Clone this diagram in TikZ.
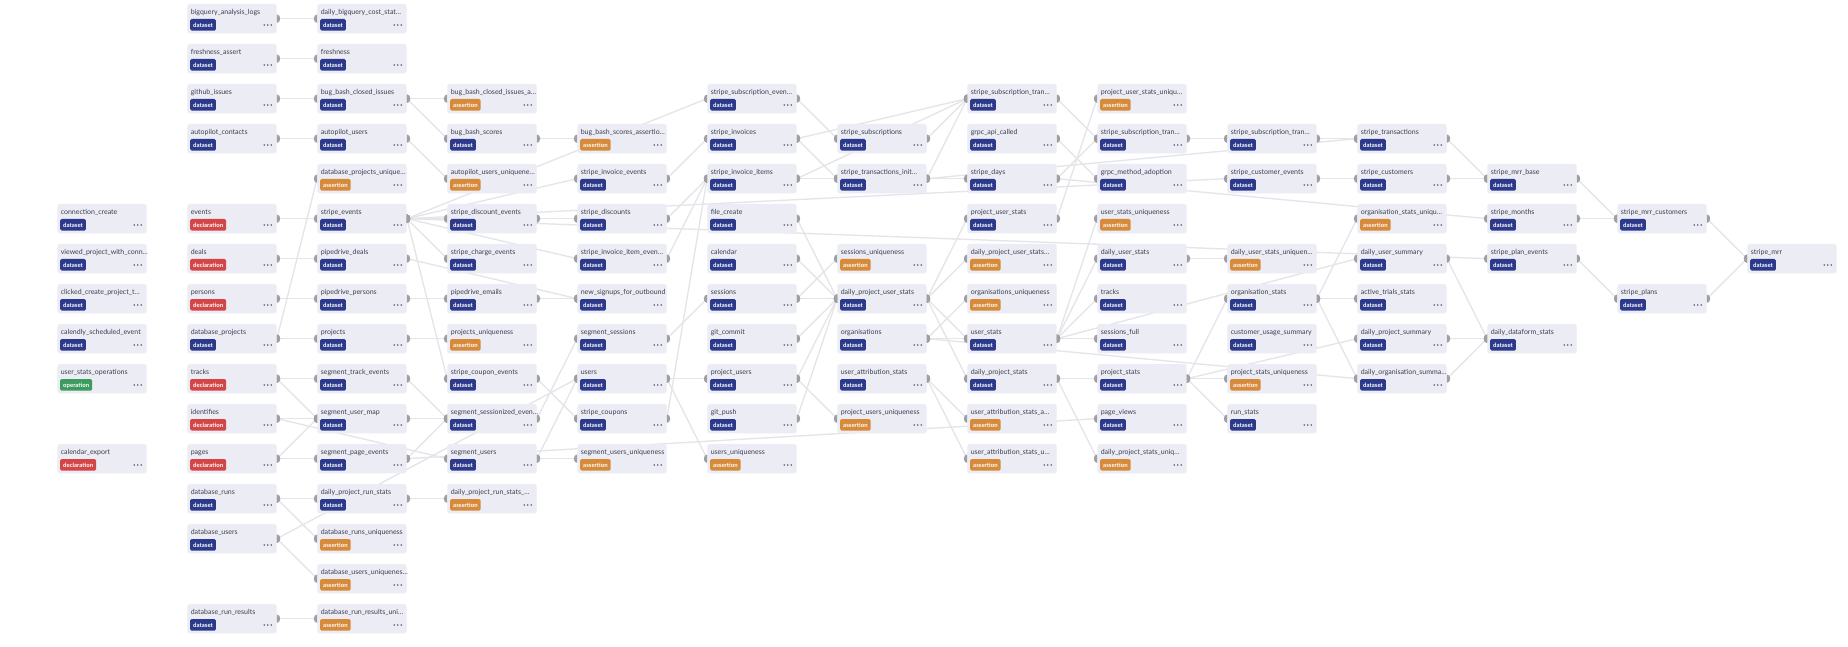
\documentclass[tikz,border=0pt]{standalone}
\usepackage{fontspec}
\setmainfont{Lato}
\usetikzlibrary{backgrounds}
\definecolor{boxc}{RGB}{235,236,244}
\definecolor{datasetc}{RGB}{45,58,140}
\definecolor{declarationc}{RGB}{212,70,70}
\definecolor{assertionc}{RGB}{214,138,58}
\definecolor{operationc}{RGB}{60,155,95}
\definecolor{edgec}{RGB}{228,228,233}
\definecolor{hdc}{RGB}{158,158,164}
\definecolor{txc}{RGB}{60,62,80}
\definecolor{dotc}{RGB}{90,92,108}
\tikzset{
  box/.style={rectangle,minimum width=89.4pt,minimum height=29.3pt,inner sep=0pt,fill=boxc,rounded corners=2.5pt},
  title/.style={anchor=base west,inner sep=0pt,font=\fontsize{7}{8}\selectfont,text=txc},
  badge/.style={anchor=west,minimum height=11.7pt,inner xsep=3pt,inner ysep=0pt,rounded corners=1.5pt,text=white,font=\fontsize{6}{7}\selectfont\bfseries,text height=4.4pt,text depth=0pt},
  edgeln/.style={draw=edgec,line width=1.3pt},
}
\newcommand\dnode[5]{%
  \pgfmathsetmacro\nx{57.3+130*#2}%
  \pgfmathsetmacro\ny{-(4+40*#3)}%
  \node[box] (#1) at (\nx+44.7,\ny-14.65) {};
  \node[title] (#1t) at (\nx+3.3,\ny-10.5) {#4};
  \node[badge,fill=#5c] (#1b) at (\nx+2.7,\ny-20.85) {#5};
  \fill[dotc] (\nx+77,\ny-21) circle (0.85pt) (\nx+80.5,\ny-21) circle (0.85pt) (\nx+84,\ny-21) circle (0.85pt);
}
\newcommand\edge[2]{%
  \begin{scope}[on background layer]
    \draw[edgeln] (#1.east) -- (#2.west);
  \end{scope}
  \fill[hdc] ([yshift=4.2pt]#1.east) arc[start angle=90,end angle=-90,x radius=3.3pt,y radius=4.2pt] -- cycle;
  \fill[hdc] ([yshift=4.2pt]#2.west) arc[start angle=90,end angle=270,x radius=3.3pt,y radius=4.2pt] -- cycle;
}
\begin{document}
\begin{tikzpicture}[x=1pt,y=1pt]
\useasboundingbox (0,0) rectangle (1848,-647);
\begin{scope}[on background layer]
\fill[white] (0,0) rectangle (1848,-647);
\end{scope}
% column 0
\dnode{cc}{0}{5}{connection\_create}{dataset}
\dnode{vp}{0}{6}{viewed\_project\_with\_conn…}{dataset}
\dnode{ccp}{0}{7}{clicked\_create\_project\_t…}{dataset}
\dnode{cse}{0}{8}{calendly\_scheduled\_event}{dataset}
\dnode{uso}{0}{9}{user\_stats\_operations}{operation}
\dnode{cex}{0}{11}{calendar\_export}{declaration}
% column 1
\dnode{bal}{1}{0}{bigquery\_analysis\_logs}{dataset}
\dnode{fa}{1}{1}{freshness\_assert}{dataset}
\dnode{gi}{1}{2}{github\_issues}{dataset}
\dnode{ac}{1}{3}{autopilot\_contacts}{dataset}
\dnode{ev}{1}{5}{events}{declaration}
\dnode{de}{1}{6}{deals}{declaration}
\dnode{pe}{1}{7}{persons}{declaration}
\dnode{dp}{1}{8}{database\_projects}{dataset}
\dnode{tr}{1}{9}{tracks}{declaration}
\dnode{id}{1}{10}{identifies}{declaration}
\dnode{pg}{1}{11}{pages}{declaration}
\dnode{dr}{1}{12}{database\_runs}{dataset}
\dnode{du}{1}{13}{database\_users}{dataset}
\dnode{drr}{1}{15}{database\_run\_results}{dataset}
% column 2
\dnode{dbc}{2}{0}{daily\_bigquery\_cost\_stat…}{dataset}
\dnode{fr}{2}{1}{freshness}{dataset}
\dnode{bbci}{2}{2}{bug\_bash\_closed\_issues}{dataset}
\dnode{au}{2}{3}{autopilot\_users}{dataset}
\dnode{dpu}{2}{4}{database\_projects\_unique…}{assertion}
\dnode{se}{2}{5}{stripe\_events}{dataset}
\dnode{pdd}{2}{6}{pipedrive\_deals}{dataset}
\dnode{pdp}{2}{7}{pipedrive\_persons}{dataset}
\dnode{pj}{2}{8}{projects}{dataset}
\dnode{ste}{2}{9}{segment\_track\_events}{dataset}
\dnode{sum}{2}{10}{segment\_user\_map}{dataset}
\dnode{spe}{2}{11}{segment\_page\_events}{dataset}
\dnode{dprs}{2}{12}{daily\_project\_run\_stats}{dataset}
\dnode{dru}{2}{13}{database\_runs\_uniqueness}{assertion}
\dnode{duu}{2}{14}{database\_users\_uniquenes…}{assertion}
\dnode{drru}{2}{15}{database\_run\_results\_uni…}{assertion}
% column 3
\dnode{bbcia}{3}{2}{bug\_bash\_closed\_issues\_a…}{assertion}
\dnode{bbs}{3}{3}{bug\_bash\_scores}{dataset}
\dnode{auu}{3}{4}{autopilot\_users\_uniquene…}{assertion}
\dnode{sde}{3}{5}{stripe\_discount\_events}{dataset}
\dnode{sce}{3}{6}{stripe\_charge\_events}{dataset}
\dnode{pem}{3}{7}{pipedrive\_emails}{dataset}
\dnode{pju}{3}{8}{projects\_uniqueness}{assertion}
\dnode{scpe}{3}{9}{stripe\_coupon\_events}{dataset}
\dnode{sse}{3}{10}{segment\_sessionized\_even…}{dataset}
\dnode{su}{3}{11}{segment\_users}{dataset}
\dnode{dprsa}{3}{12}{daily\_project\_run\_stats\_…}{assertion}
% column 4
\dnode{bbsa}{4}{3}{bug\_bash\_scores\_assertio…}{assertion}
\dnode{sie}{4}{4}{stripe\_invoice\_events}{dataset}
\dnode{sd}{4}{5}{stripe\_discounts}{dataset}
\dnode{siie}{4}{6}{stripe\_invoice\_item\_even…}{dataset}
\dnode{nso}{4}{7}{new\_signups\_for\_outbound}{dataset}
\dnode{ss}{4}{8}{segment\_sessions}{dataset}
\dnode{us}{4}{9}{users}{dataset}
\dnode{sc}{4}{10}{stripe\_coupons}{dataset}
\dnode{suu}{4}{11}{segment\_users\_uniqueness}{assertion}
% column 5
\dnode{ssue}{5}{2}{stripe\_subscription\_even…}{dataset}
\dnode{si}{5}{3}{stripe\_invoices}{dataset}
\dnode{sii}{5}{4}{stripe\_invoice\_items}{dataset}
\dnode{fc}{5}{5}{file\_create}{dataset}
\dnode{cal}{5}{6}{calendar}{dataset}
\dnode{ses}{5}{7}{sessions}{dataset}
\dnode{gc}{5}{8}{git\_commit}{dataset}
\dnode{pu}{5}{9}{project\_users}{dataset}
\dnode{gp}{5}{10}{git\_push}{dataset}
\dnode{uu}{5}{11}{users\_uniqueness}{assertion}
% column 6
\dnode{ssub}{6}{3}{stripe\_subscriptions}{dataset}
\dnode{sti}{6}{4}{stripe\_transactions\_init…}{dataset}
\dnode{sesu}{6}{6}{sessions\_uniqueness}{assertion}
\dnode{dpus}{6}{7}{daily\_project\_user\_stats}{dataset}
\dnode{org}{6}{8}{organisations}{dataset}
\dnode{uas}{6}{9}{user\_attribution\_stats}{dataset}
\dnode{puu}{6}{10}{project\_users\_uniqueness}{assertion}
% column 7
\dnode{sst7}{7}{2}{stripe\_subscription\_tran…}{dataset}
\dnode{gac}{7}{3}{grpc\_api\_called}{dataset}
\dnode{sdays}{7}{4}{stripe\_days}{dataset}
\dnode{pus}{7}{5}{project\_user\_stats}{dataset}
\dnode{dpusa}{7}{6}{daily\_project\_user\_stats…}{assertion}
\dnode{orgu}{7}{7}{organisations\_uniqueness}{assertion}
\dnode{ust}{7}{8}{user\_stats}{dataset}
\dnode{dps}{7}{9}{daily\_project\_stats}{dataset}
\dnode{uasa}{7}{10}{user\_attribution\_stats\_a…}{assertion}
\dnode{uasu}{7}{11}{user\_attribution\_stats\_u…}{assertion}
% column 8
\dnode{pusu}{8}{2}{project\_user\_stats\_uniqu…}{assertion}
\dnode{sst8}{8}{3}{stripe\_subscription\_tran…}{dataset}
\dnode{gma}{8}{4}{grpc\_method\_adoption}{dataset}
\dnode{ustu}{8}{5}{user\_stats\_uniqueness}{assertion}
\dnode{dus}{8}{6}{daily\_user\_stats}{dataset}
\dnode{trk}{8}{7}{tracks}{dataset}
\dnode{sf}{8}{8}{sessions\_full}{dataset}
\dnode{ps}{8}{9}{project\_stats}{dataset}
\dnode{pv}{8}{10}{page\_views}{dataset}
\dnode{dpsu}{8}{11}{daily\_project\_stats\_uniq…}{assertion}
% column 9
\dnode{sst9}{9}{3}{stripe\_subscription\_tran…}{dataset}
\dnode{scue}{9}{4}{stripe\_customer\_events}{dataset}
\dnode{dusu}{9}{6}{daily\_user\_stats\_uniquen…}{assertion}
\dnode{os}{9}{7}{organisation\_stats}{dataset}
\dnode{cus}{9}{8}{customer\_usage\_summary}{dataset}
\dnode{psu}{9}{9}{project\_stats\_uniqueness}{assertion}
\dnode{rs}{9}{10}{run\_stats}{dataset}
% column 10
\dnode{stx}{10}{3}{stripe\_transactions}{dataset}
\dnode{scu}{10}{4}{stripe\_customers}{dataset}
\dnode{osu}{10}{5}{organisation\_stats\_uniqu…}{assertion}
\dnode{dusum}{10}{6}{daily\_user\_summary}{dataset}
\dnode{ats}{10}{7}{active\_trials\_stats}{dataset}
\dnode{dpsum}{10}{8}{daily\_project\_summary}{dataset}
\dnode{dos}{10}{9}{daily\_organisation\_summa…}{dataset}
% column 11-13
\dnode{smb}{11}{4}{stripe\_mrr\_base}{dataset}
\dnode{smo}{11}{5}{stripe\_months}{dataset}
\dnode{spev}{11}{6}{stripe\_plan\_events}{dataset}
\dnode{ddf}{11}{8}{daily\_dataform\_stats}{dataset}
\dnode{smc}{12}{5}{stripe\_mrr\_customers}{dataset}
\dnode{spl}{12}{7}{stripe\_plans}{dataset}
\dnode{smrr}{13}{6}{stripe\_mrr}{dataset}
% edges
\edge{bal}{dbc}
\edge{fa}{fr}
\edge{gi}{bbci}
\edge{ac}{au}
\edge{bbci}{bbcia}
\edge{bbci}{bbs}
\edge{au}{auu}
\edge{dp}{dpu}
\edge{ev}{se}
\edge{de}{pdd}
\edge{pe}{pdp}
\edge{dp}{pj}
\edge{tr}{ste}
\edge{tr}{sum}
\edge{id}{sum}
\edge{id}{su}
\edge{pg}{sum}
\edge{pg}{spe}
\edge{dr}{dprs}
\edge{dr}{dru}
\edge{du}{duu}
\edge{drr}{drru}
\edge{du}{us}
\edge{bbs}{bbsa}
\edge{se}{ssue}
\edge{se}{sie}
\edge{se}{sde}
\edge{se}{sce}
\edge{se}{scpe}
\edge{se}{siie}
\edge{se}{scue}
\edge{se}{spev}
\edge{pdd}{nso}
\edge{pdp}{pem}
\edge{pem}{nso}
\edge{scpe}{sc}
\edge{sc}{sii}
\edge{sie}{si}
\edge{siie}{sii}
\edge{sd}{sii}
\edge{sde}{sd}
\edge{ssue}{ssub}
\edge{si}{sst7}
\edge{si}{sti}
\edge{sii}{sti}
\edge{sii}{sst7}
\edge{ssub}{sst7}
\edge{sti}{sst7}
\edge{sti}{sdays}
\edge{sti}{stx}
\edge{sst7}{sst8}
\edge{gac}{gma}
\edge{sdays}{sst8}
\edge{sdays}{smo}
\edge{pus}{pusu}
\edge{ust}{ustu}
\edge{sst8}{sst9}
\edge{sst9}{stx}
\edge{scue}{scu}
\edge{stx}{smb}
\edge{scu}{smb}
\edge{smb}{smc}
\edge{smo}{smc}
\edge{spev}{spl}
\edge{smc}{smrr}
\edge{spl}{smrr}
\edge{dusum}{ddf}
\edge{dpsum}{ddf}
\edge{dos}{ddf}
\edge{os}{osu}
\edge{os}{ats}
\edge{os}{dos}
\edge{dus}{dusu}
\edge{ust}{dusum}
\edge{ps}{dpsum}
\edge{org}{dos}
\edge{dps}{ps}
\edge{ps}{psu}
\edge{ps}{rs}
\edge{ps}{os}
\edge{ust}{sf}
\edge{ust}{dus}
\edge{ust}{trk}
\edge{ss}{ses}
\edge{su}{suu}
\edge{su}{us}
\edge{sse}{ss}
\edge{ste}{sse}
\edge{spe}{sse}
\edge{spe}{pv}
\edge{sum}{sse}
\edge{us}{uu}
\edge{us}{pu}
\edge{dprs}{dprsa}
\edge{pj}{pju}
\edge{dpus}{dpusa}
\edge{dpus}{pus}
\edge{dpus}{ust}
\edge{dpus}{dps}
\edge{fc}{dpus}
\edge{cal}{dpus}
\edge{ses}{dpus}
\edge{gc}{dpus}
\edge{pu}{dpus}
\edge{gp}{dpus}
\edge{org}{orgu}
\edge{org}{ust}
\edge{uas}{uasa}
\edge{uas}{uasu}
\edge{pu}{puu}
\edge{ses}{sesu}
\edge{dps}{dpsu}
\end{tikzpicture}
\end{document}
